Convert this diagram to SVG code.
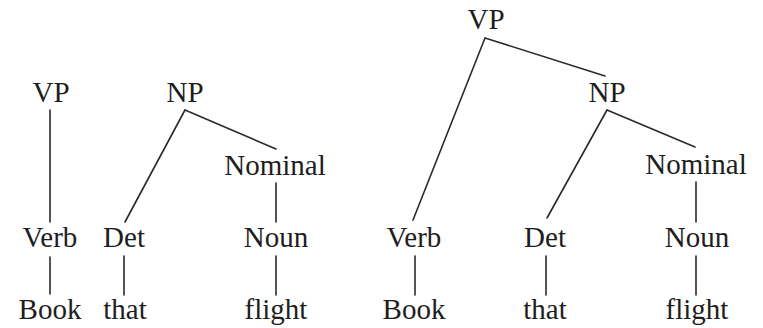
<svg xmlns="http://www.w3.org/2000/svg" width="763" height="328" viewBox="0 0 763 328" font-family="Liberation Serif, Times New Roman, serif">
  <style>
    .lbl { font-size: 29px; fill: #1e1e1e; text-anchor: middle; }
    .edge { stroke: #2a2a2a; stroke-width: 1.6; fill: none; stroke-linecap: round; }
  </style>
  <rect width="763" height="328" fill="#ffffff"/>

  <!-- tree branches -->
  <g id="connectors">
    <!-- left: VP alone, NP subtree -->
    <line class="edge" x1="50" y1="110" x2="50" y2="222"/>
    <line class="edge" x1="50" y1="257" x2="50" y2="294"/>
    <line class="edge" x1="185" y1="110" x2="125" y2="222"/>
    <line class="edge" x1="185" y1="110" x2="276" y2="149"/>
    <line class="edge" x1="276" y1="183" x2="276" y2="222"/>
    <line class="edge" x1="124" y1="256" x2="124" y2="295"/>
    <line class="edge" x1="276" y1="256" x2="276" y2="295"/>
    <!-- right: combined VP tree -->
    <line class="edge" x1="485" y1="38" x2="413" y2="220"/>
    <line class="edge" x1="485" y1="38" x2="605" y2="76"/>
    <line class="edge" x1="607" y1="110" x2="547" y2="218"/>
    <line class="edge" x1="607" y1="110" x2="695" y2="147"/>
    <line class="edge" x1="696" y1="182" x2="696" y2="222"/>
    <line class="edge" x1="415" y1="256" x2="415" y2="295"/>
    <line class="edge" x1="546" y1="256" x2="546" y2="295"/>
    <line class="edge" x1="696" y1="256" x2="696" y2="295"/>
  </g>

  <!-- left trees -->
  <g id="l-vp"><text class="lbl" x="51" y="102">VP</text></g>
  <g id="l-verb"><text class="lbl" x="50" y="247">Verb</text></g>
  <g id="l-book"><text class="lbl" x="50" y="319">Book</text></g>
  <g id="l-np"><text class="lbl" x="185" y="102">NP</text></g>
  <g id="l-det"><text class="lbl" x="124" y="247">Det</text></g>
  <g id="l-that"><text class="lbl" x="125" y="319">that</text></g>
  <g id="l-nominal"><text class="lbl" x="275" y="175">Nominal</text></g>
  <g id="l-noun"><text class="lbl" x="276" y="247">Noun</text></g>
  <g id="l-flight"><text class="lbl" x="276" y="319">flight</text></g>

  <!-- right tree -->
  <g id="r-vp"><text class="lbl" x="486" y="29">VP</text></g>
  <g id="r-np"><text class="lbl" x="607" y="102">NP</text></g>
  <g id="r-nominal"><text class="lbl" x="696" y="174">Nominal</text></g>
  <g id="r-verb"><text class="lbl" x="414" y="247">Verb</text></g>
  <g id="r-det"><text class="lbl" x="545" y="247">Det</text></g>
  <g id="r-noun"><text class="lbl" x="697" y="247">Noun</text></g>
  <g id="r-book"><text class="lbl" x="414" y="319">Book</text></g>
  <g id="r-that"><text class="lbl" x="545" y="319">that</text></g>
  <g id="r-flight"><text class="lbl" x="697" y="319">flight</text></g>
</svg>
